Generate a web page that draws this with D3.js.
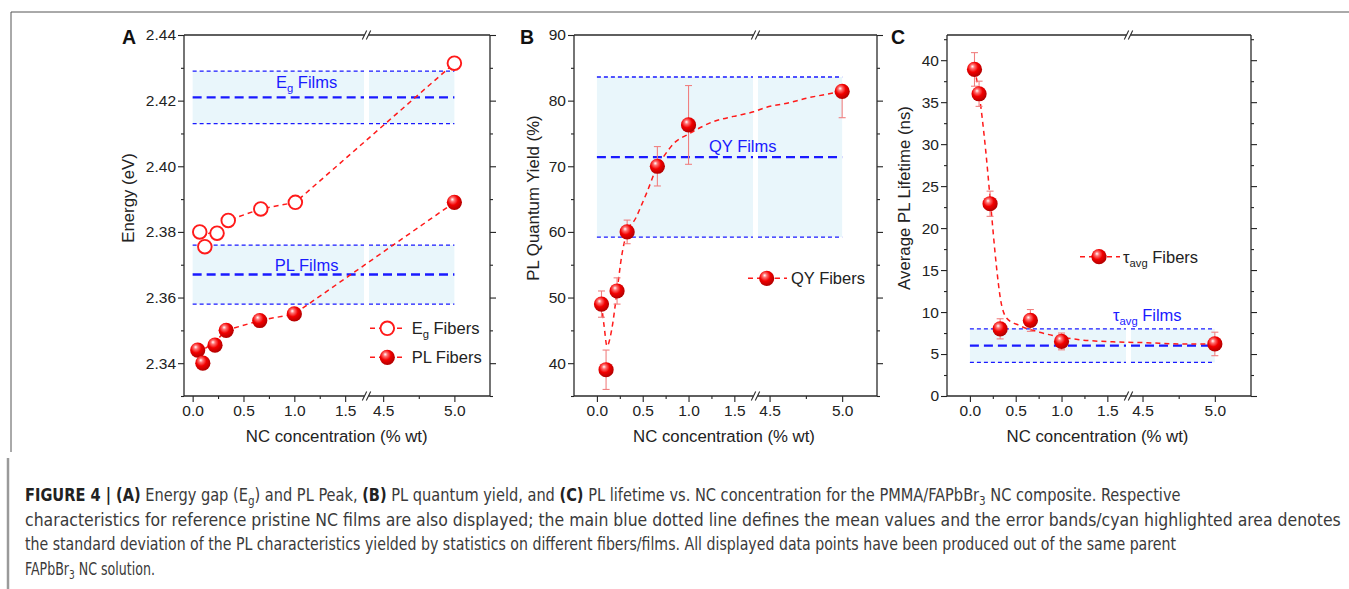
<!DOCTYPE html>
<html><head><meta charset="utf-8">
<script src="https://cdn.jsdelivr.net/npm/d3@7"></script>
<style>body{margin:0;background:#fff;}svg{display:block;}</style>
</head><body>
<script>
// ---------------- DATA ----------------
const concentrations = [0.05, 0.1, 0.22, 0.33, 0.66, 1.0, 5.0];
const egX = [0.07, 0.12, 0.24, 0.35, 0.67, 1.01, 5.0];
const egFibers = [2.380, 2.3755, 2.3796, 2.3835, 2.387, 2.389, 2.4314];
const plFibers = [2.344, 2.340, 2.3455, 2.350, 2.353, 2.355, 2.389];
const qyFibers = [49, 39, 51, 60, 70, 76.3, 81.4];
const qyErrUp = [2, 3, 2, 1.8, 3, 6, 0];
const qyErrDown = [2, 3, 2, 1.8, 3, 6, 4];
const tauFibers = [38.9, 36.0, 22.9, 8.0, 9.0, 6.5, 6.2];
const tauErr = [2, 1.5, 1.5, 1.2, 1.3, 1.0, 1.4];
// film reference (mean, standard deviation)
const filmNames = ["Eg Films", "PL Films", "QY Films", "τavg Films"];
const filmMean = [2.421, 2.367, 71.4, 6.0];
const filmSD = [0.008, 0.009, 12.2, 2.0];
const filmRange = [0, 5.0];
// guide-to-the-eye fit curves [x, y]
const egFit = [[0.07,2.3785],[0.24,2.3805],[0.35,2.3835],[0.67,2.387],[1.01,2.389],[5.0,2.4314]];
const plFit = [[0.05,2.343],[0.22,2.3465],[0.33,2.350],[0.66,2.353],[1.0,2.355],[5.0,2.389]];
const qyFit = [[0.05,49],[0.08,45.5],[0.11,42.6],[0.16,45.0],[0.22,51],[0.27,56.3],[0.33,60],[0.42,62],[0.49,64.2],[0.545,66],[0.66,70],[0.73,71.5],[0.84,73.5],[1.0,74.9],[1.05,75.3],[1.27,76.8],[1.49,77.6],[1.71,78.3],[4.48,79.0],[4.62,79.6],[4.76,80.4],[4.9,81.0],[5.0,81.4]];
const tauFit = [[0.05,39],[0.1,36],[0.17,29.5],[0.225,23],[0.29,15.4],[0.33,11.8],[0.4,9.3],[0.54,8.4],[0.76,7.6],[0.98,7.05],[1.2,6.7],[1.56,6.45],[4.52,6.35],[4.76,6.2],[5.0,6.2]];
// ticks
const xMajor = [0, 0.5, 1.0, 1.5, 4.5, 5.0];
const xMajorLabels = ["0.0", "0.5", "1.0", "1.5", "4.5", "5.0"];
const xMinor = [-0.25, 0.25, 0.75, 1.25, 4.75];
const yTicksA = [2.34, 2.36, 2.38, 2.40, 2.42, 2.44];
const yMinorA = [2.33, 2.35, 2.37, 2.39, 2.41, 2.43];
const yTicksB = [40, 50, 60, 70, 80, 90];
const yMinorB = [35, 45, 55, 65, 75, 85];
const yTicksC = [0, 5, 10, 15, 20, 25, 30, 35, 40];
const yMinorC = [2.5, 7.5, 12.5, 17.5, 22.5, 27.5, 32.5, 37.5, 42.5];
const xTitle = "NC concentration (% wt)";
const yTitles = ["Energy (eV)", "PL Quantum Yield (%)", "Average PL Lifetime (ns)"];
const panelLetters = ["A", "B", "C"];

// ---------------- SETUP ----------------
const W = 1349, H = 589;
const FONT = "Arial, 'Liberation Sans', Helvetica, sans-serif";
const RED = "#ff1a1a", BLUE = "#1a1aff", BAND = "#e9f6fb", INK = "#222";
const svg = d3.select("body").append("svg").attr("width", W).attr("height", H);

const defs = svg.append("defs");
const grad = defs.append("radialGradient").attr("id", "ball")
  .attr("cx", "0.42").attr("cy", "0.38").attr("r", "0.62").attr("fx", "0.36").attr("fy", "0.3");
grad.append("stop").attr("offset", "0").attr("stop-color", "#ffffff");
grad.append("stop").attr("offset", "0.22").attr("stop-color", "#ff7070");
grad.append("stop").attr("offset", "0.55").attr("stop-color", "#f20000");
grad.append("stop").attr("offset", "1").attr("stop-color", "#b00000");

// figure frame
svg.append("line").attr("x1", 11).attr("x2", W).attr("y1", 12).attr("y2", 12).attr("stroke", "#555").attr("stroke-width", 1);
svg.append("line").attr("x1", 11).attr("x2", 11).attr("y1", 12).attr("y2", 452).attr("stroke", "#555").attr("stroke-width", 1);
svg.append("line").attr("x1", 8).attr("x2", 8).attr("y1", 458).attr("y2", H).attr("stroke", "#9a9a9a").attr("stroke-width", 2.5);

const TOP = 35, BOT = 396;

const panels = [
  { left: 184, bk: 366.5, right: 490, d1: [-0.085, 1.70], d2: [4.39, 5.25], yDom: [2.33, 2.44],
    yMaj: yTicksA, yMin: yMinorA, fmt: d3.format(".2f"), yTitleX: 127.5, xTitleX: 336.7, letterX: 122 },
  { left: 574, bk: 755.5, right: 877, d1: [-0.25, 1.72], d2: [4.41, 5.24], yDom: [35, 90],
    yMaj: yTicksB, yMin: yMinorB, fmt: d3.format("d"), yTitleX: 533, xTitleX: 724, letterX: 520 },
  { left: 947, bk: 1128.5, right: 1251, d1: [-0.25, 1.72], d2: [4.41, 5.25], yDom: [0, 43],
    yMaj: yTicksC, yMin: yMinorC, fmt: d3.format("d"), yTitleX: 903.5, xTitleX: 1097.5, letterX: 891 }
];

panels.forEach(p => {
  p.s1 = d3.scaleLinear().domain(p.d1).range([p.left, p.bk - 1]);
  p.s2 = d3.scaleLinear().domain(p.d2).range([p.bk + 1, p.right]);
  p.x = v => (v < 3 ? p.s1(v) : p.s2(v));
  p.y = d3.scaleLinear().domain(p.yDom).range([BOT, TOP]);
  p.g = svg.append("g");
});

function styleAxis(sel) {
  sel.select(".domain").remove();
  sel.selectAll("line").attr("stroke", INK).attr("stroke-width", 1.1);
  sel.selectAll("text").attr("font-family", FONT).attr("font-size", 15.5).attr("fill", INK);
}

function drawBand(p, i) {
  const g = p.g;
  const m = filmMean[i], s = filmSD[i];
  const x0 = p.x(filmRange[0]), x1 = p.x(filmRange[1]);
  const segs = [[x0, p.bk - 2.5], [p.bk + 2.5, x1]];
  segs.forEach(([a, b]) => {
    g.append("rect").attr("x", a).attr("width", b - a)
      .attr("y", p.y(m + s)).attr("height", p.y(m - s) - p.y(m + s)).attr("fill", BAND);
    [m + s, m - s].forEach(v => g.append("line").attr("x1", a).attr("x2", b)
      .attr("y1", p.y(v)).attr("y2", p.y(v)).attr("stroke", BLUE).attr("stroke-width", 1.3)
      .attr("stroke-dasharray", "4,3"));
    g.append("line").attr("x1", a).attr("x2", b).attr("y1", p.y(m)).attr("y2", p.y(m))
      .attr("stroke", BLUE).attr("stroke-width", 2.4).attr("stroke-dasharray", "9,5");
  });
}

function drawFit(p, pts, curve) {
  p.g.append("path").datum(pts)
    .attr("d", d3.line().x(d => p.x(d[0])).y(d => p.y(d[1])).curve(curve || d3.curveMonotoneX))
    .attr("fill", "none").attr("stroke", RED).attr("stroke-width", 1.5).attr("stroke-dasharray", "5,4");
}

function drawErr(p, xs, ys, up, down) {
  xs.forEach((xv, k) => {
    const cx = p.x(xv);
    const yt = p.y(ys[k] + up[k]), yb = p.y(ys[k] - down[k]);
    p.g.append("line").attr("x1", cx).attr("x2", cx).attr("y1", yt).attr("y2", yb)
      .attr("stroke", "#f08080").attr("stroke-width", 1.1);
    if (up[k] > 0) p.g.append("line").attr("x1", cx - 3.5).attr("x2", cx + 3.5).attr("y1", yt).attr("y2", yt)
      .attr("stroke", "#f08080").attr("stroke-width", 1.1);
    if (down[k] > 0) p.g.append("line").attr("x1", cx - 3.5).attr("x2", cx + 3.5).attr("y1", yb).attr("y2", yb)
      .attr("stroke", "#f08080").attr("stroke-width", 1.1);
  });
}

function ball(g, cx, cy) {
  g.append("circle").attr("cx", cx).attr("cy", cy).attr("r", 7.6).attr("fill", "url(#ball)");
}
function ring(g, cx, cy) {
  g.append("circle").attr("cx", cx).attr("cy", cy).attr("r", 6.8).attr("fill", "#fff")
    .attr("stroke", RED).attr("stroke-width", 1.9);
}

function drawAxes(p, i) {
  const g = p.g;
  g.append("g").attr("transform", `translate(${p.left},0)`)
    .call(d3.axisLeft(p.y).tickValues(p.yMaj).tickSize(6).tickPadding(2).tickFormat(p.fmt)).call(styleAxis);
  g.append("g").attr("transform", `translate(${p.left},0)`)
    .call(d3.axisLeft(p.y).tickValues(p.yMin).tickSize(3).tickFormat("")).call(styleAxis);
  g.append("g").attr("transform", `translate(${p.right},0)`)
    .call(d3.axisRight(p.y).tickValues(p.yMaj).tickSize(6).tickFormat("")).call(styleAxis);
  g.append("g").attr("transform", `translate(${p.right},0)`)
    .call(d3.axisRight(p.y).tickValues(p.yMin).tickSize(3).tickFormat("")).call(styleAxis);
  [p.s1, p.s2].forEach(s => {
    const dm = s.domain();
    const maj = xMajor.filter(v => v >= dm[0] - 1e-9 && v <= dm[1] + 1e-9);
    const mn = xMinor.filter(v => v >= dm[0] + 0.01 && v <= dm[1] - 0.01);
    g.append("g").attr("transform", `translate(0,${BOT})`)
      .call(d3.axisBottom(s).tickValues(maj).tickSize(6).tickPadding(3)
        .tickFormat(v => xMajorLabels[xMajor.indexOf(v)])).call(styleAxis);
    g.append("g").attr("transform", `translate(0,${BOT})`)
      .call(d3.axisBottom(s).tickValues(mn).tickSize(3).tickFormat("")).call(styleAxis);
  });
  const ln = (x1, y1, x2, y2) => g.append("line").attr("x1", x1).attr("y1", y1).attr("x2", x2).attr("y2", y2)
    .attr("stroke", "#2a2a2a").attr("stroke-width", 1.3);
  ln(p.left, TOP, p.left, BOT);
  ln(p.right, TOP, p.right, BOT);
  [TOP, BOT].forEach(yy => {
    ln(p.left, yy, p.bk - 2, yy);
    ln(p.bk + 2, yy, p.right, yy);
    [-2, 2].forEach(o => ln(p.bk + o - 2.2, yy + 4.5, p.bk + o + 2.2, yy - 4.5).attr("stroke-width", 1.1));
  });
  g.append("text").attr("x", p.xTitleX).attr("y", 442).attr("text-anchor", "middle")
    .attr("font-family", FONT).attr("font-size", 16.8).attr("fill", INK).text(xTitle);
  g.append("text").attr("transform", `translate(${p.yTitleX + 6},198) rotate(-90)`).attr("text-anchor", "middle")
    .attr("font-family", FONT).attr("font-size", 16.8).attr("fill", INK).text(yTitles[i]);
  g.append("text").attr("x", p.letterX).attr("y", 44).attr("font-family", FONT).attr("font-weight", "bold")
    .attr("font-size", 19.5).attr("fill", "#111").text(panelLetters[i]);
}

function subText(g, x, y, parts, size, color, anchor) {
  const t = g.append("text").attr("x", x).attr("y", y).attr("font-family", FONT)
    .attr("font-size", size).attr("fill", color).attr("text-anchor", anchor || "start");
  let shifted = false;
  parts.forEach(([s, sub]) => {
    const ts = t.append("tspan").text(s);
    if (sub) { ts.attr("dy", 4).attr("font-size", size * 0.68); shifted = true; }
    else if (shifted) { ts.attr("dy", -4); shifted = false; }
  });
  return t;
}

function legendRow(p, x1, x2, mx, ty, tx, kind, parts) {
  p.g.append("line").attr("x1", x1).attr("x2", x2).attr("y1", ty).attr("y2", ty)
    .attr("stroke", RED).attr("stroke-width", 1.5).attr("stroke-dasharray", "5,4");
  if (kind === "ring") ring(p.g, mx, ty); else ball(p.g, mx, ty);
  subText(p.g, tx, ty + 6, parts, 16.5, INK);
}

// ---------------- PANEL A ----------------
(() => {
  const p = panels[0];
  drawBand(p, 0); drawBand(p, 1);
  subText(p.g, p.x(0) + 114, 88, [["E"], ["g", true], [" Films"]], 16.5, BLUE, "middle");
  subText(p.g, p.x(0) + 114, 270.5, [["PL Films"]], 16.5, BLUE, "middle");
  drawFit(p, egFit, d3.curveLinear); drawFit(p, plFit, d3.curveLinear);
  egX.forEach((xv, k) => ring(p.g, p.x(xv), p.y(egFibers[k])));
  concentrations.forEach((xv, k) => ball(p.g, p.x(xv), p.y(plFibers[k])));
  legendRow(p, 370, 404, 387.3, 328.3, 411.7, "ring", [["E"], ["g", true], [" Fibers"]]);
  legendRow(p, 370, 404, 387.3, 357.3, 411.7, "ball", [["PL Fibers"]]);
  drawAxes(p, 0);
})();

// ---------------- PANEL B ----------------
(() => {
  const p = panels[1];
  drawBand(p, 2);
  subText(p.g, 709, 151.5, [["QY Films"]], 16.5, BLUE);
  drawFit(p, qyFit);
  drawErr(p, concentrations, qyFibers, qyErrUp, qyErrDown);
  concentrations.forEach((xv, k) => ball(p.g, p.x(xv), p.y(qyFibers[k])));
  legendRow(p, 748, 787, 766.7, 278.3, 791, "ball", [["QY Fibers"]]);
  drawAxes(p, 1);
})();

// ---------------- PANEL C ----------------
(() => {
  const p = panels[2];
  drawBand(p, 3);
  subText(p.g, 1113, 320.5, [["τ"], ["avg", true], [" Films"]], 16.5, BLUE);
  drawFit(p, tauFit);
  drawErr(p, concentrations, tauFibers, tauErr, tauErr);
  concentrations.forEach((xv, k) => ball(p.g, p.x(xv), p.y(tauFibers[k])));
  legendRow(p, 1080, 1120, 1099, 256.7, 1123, "ball", [["τ"], ["avg", true], [" Fibers"]]);
  drawAxes(p, 2);
})();

// ---------------- CAPTION ----------------
const CAP_FONT = "'Liberation Sans Narrow', 'DejaVu Sans Condensed', 'Arial Narrow', sans-serif";
const captionLines = [
  { y: 501, end: 1181, parts: [["FIGURE 4 | ", "b"], ["(A)", "b"], [" Energy gap (E"], ["g", "s"], [") and PL Peak, "], ["(B)", "b"], [" PL quantum yield, and "], ["(C)", "b"], [" PL lifetime vs. NC concentration for the PMMA/FAPbBr"], ["3", "s"], [" NC composite. Respective"]] },
  { y: 525.5, end: 1341, parts: [["characteristics for reference pristine NC films are also displayed; the main blue dotted line defines the mean values and the error bands/cyan highlighted area denotes"]] },
  { y: 550, end: 1177, parts: [["the standard deviation of the PL characteristics yielded by statistics on different fibers/films. All displayed data points have been produced out of the same parent"]] },
  { y: 574.5, end: 155, parts: [["FAPbBr"], ["3", "s"], [" NC solution."]] }
];
const CAP_X = 25;
captionLines.forEach(line => {
  const t = svg.append("text").attr("x", 0).attr("y", 0).attr("font-family", CAP_FONT)
    .attr("font-size", 17.5).attr("fill", "#3a3a3a");
  let shifted = false;
  line.parts.forEach(([s, k]) => {
    const ts = t.append("tspan").text(s);
    if (k === "s") { ts.attr("dy", 4).attr("font-size", 12.5); shifted = true; }
    else { if (shifted) { ts.attr("dy", -4); shifted = false; } if (k === "b") ts.attr("font-weight", "bold").attr("fill", "#222"); }
  });
  const w = t.node().getComputedTextLength();
  const sx = (line.end - CAP_X) / w;
  t.attr("transform", `translate(${CAP_X},${line.y}) scale(${sx},1)`);
});
</script>
</body></html>
